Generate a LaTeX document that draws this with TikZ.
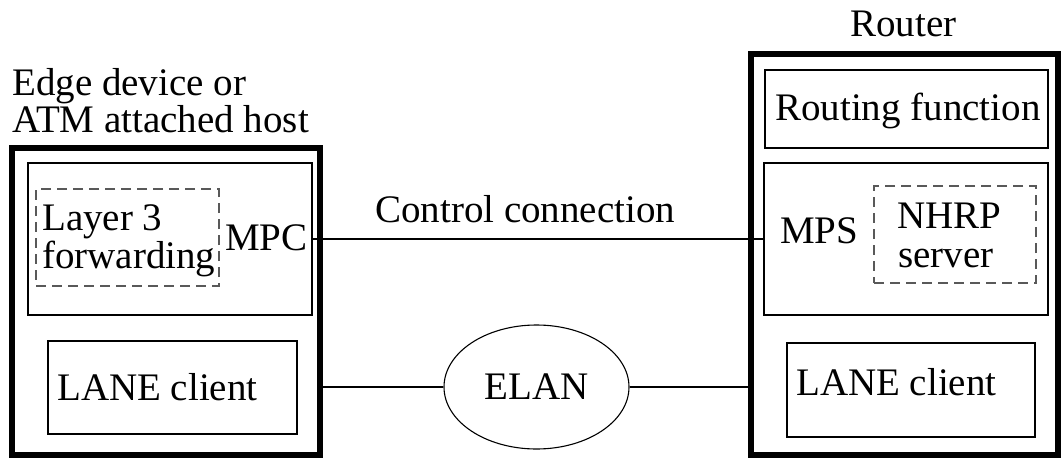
\documentclass[tikz,border=0pt]{standalone}
\usepackage{fontspec}
\setmainfont{Liberation Serif}
\usetikzlibrary{shapes.geometric}
\begin{document}
\begin{tikzpicture}[x=1pt,y=-1pt,
  every node/.style={font=\fontsize{39}{38}\selectfont},
  outer/.style={draw, line width=5.5pt, inner sep=0pt},
  rect/.style={draw, line width=1.1pt, inner sep=0pt},
  dbox/.style={draw=black!65, line width=1.2pt, dash pattern=on 10pt off 6pt, inner sep=0pt},
  lbl/.style={anchor=base west, inner sep=0pt},
  conn/.style={line width=1.1pt}]
\useasboundingbox (0,0) rectangle (1061,458);
% outer boxes
\node[outer, minimum width=308pt, minimum height=307pt] (ledge) at (166,301.5) {};
\node[outer, minimum width=307pt, minimum height=401pt] (redge) at (904.5,254.5) {};
% left inner
\node[rect, minimum width=284pt, minimum height=152pt] (mpc) at (170,239) {};
\node[dbox, minimum width=183pt, minimum height=97pt] (l3) at (127.5,237.5) {};
\node[rect, minimum width=249pt, minimum height=93pt] (lanel) at (172.5,387.5) {};
% right inner
\node[rect, minimum width=283pt, minimum height=78pt] (routing) at (906.5,109) {};
\node[rect, minimum width=284pt, minimum height=152pt] (mps) at (906,239) {};
\node[dbox, minimum width=162pt, minimum height=97pt] (nhrp) at (955,234.5) {};
\node[rect, minimum width=248pt, minimum height=94pt] (laner) at (911,390) {};
% ELAN
\node[ellipse, draw, line width=1.1pt, minimum width=185pt, minimum height=124pt, inner sep=0pt] (elan) at (536.5,387) {ELAN};
% labels
\node[lbl] (t1) at (12,95) {Edge device or};
\node[lbl] (t2) at (12,132) {ATM attached host};
\node[lbl] (t3) at (850,36) {Router};
\node[lbl] (t4) at (775,120) {Routing function};
\node[lbl] (t5) at (42,230) {Layer 3};
\node[lbl] (t6) at (42,268) {forwarding};
\node[lbl] (t7) at (225,250) {MPC};
\node[lbl] (t8) at (780,243) {MPS};
\node[lbl] (t9) at (897,228) {NHRP};
\node[lbl] (t10) at (898,267) {server};
\node[lbl] (t11) at (375,222) {Control connection};
\node[lbl] (t12) at (57,400) {LANE client};
\node[lbl] (t13) at (796,395) {LANE client};
% connectors
\draw[conn] (mpc.east) -- (mps.west);
\draw[conn] (elan.west -| ledge.east) -- (elan.west);
\draw[conn] (elan.east) -- (elan.east -| redge.west);
\end{tikzpicture}
\end{document}
